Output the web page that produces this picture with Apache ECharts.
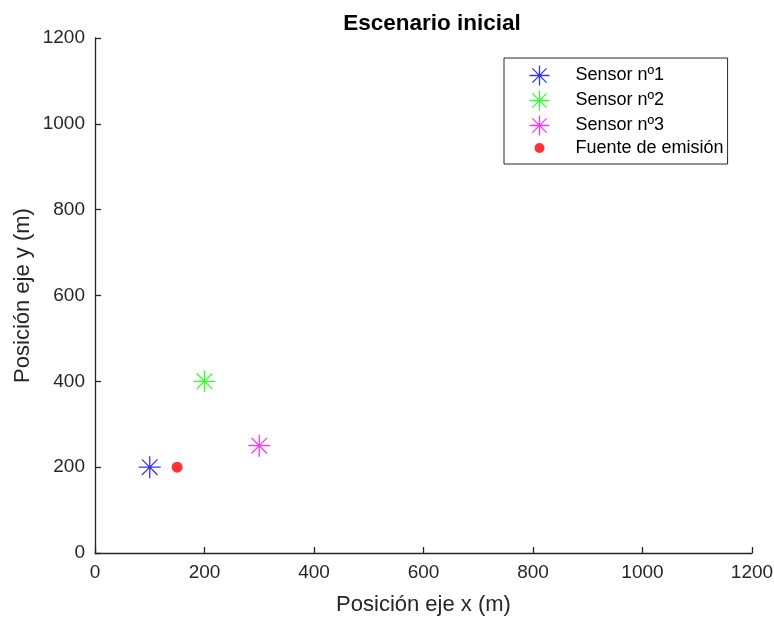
<!DOCTYPE html>
<html>
<head>
<meta charset="utf-8">
<script src="https://cdn.jsdelivr.net/npm/echarts@6/dist/echarts.min.js"></script>
<style>
html,body{margin:0;padding:0;background:#fff;}
#c{width:774px;height:617px;}
</style>
</head>
<body>
<div id="c"></div>
<script>
const titleText = 'Escenario inicial';
const xLabel = 'Posición eje x (m)';
const yLabel = 'Posición eje y (m)';
const seriesNames = ['Sensor nº1', 'Sensor nº2', 'Sensor nº3', 'Fuente de emisión'];
const sensor1 = [[100, 200]];
const sensor2 = [[200, 400]];
const sensor3 = [[300, 250]];
const source = [[150, 200]];
const axisMin = 0, axisMax = 1200, axisStep = 200;

const FONT = '"Liberation Sans", Arial, Helvetica, sans-serif';
const AX = '#262626';
const star = 'path://M-11,0L11,0M0,-11L0,11M-7.8,-7.8L7.8,7.8M-7.8,7.8L7.8,-7.8';

function starSeries(name, data, color) {
  return {
    name: name, type: 'scatter', data: data,
    symbol: star, symbolSize: 22,
    itemStyle: { color: 'none', borderColor: color, borderWidth: 1.3 },
    emphasis: { disabled: true }
  };
}

const chart = echarts.init(document.getElementById('c'), null, { renderer: 'canvas' });
const axisCommon = {
  type: 'value', min: axisMin, max: axisMax, interval: axisStep,
  nameLocation: 'middle',
  nameMoveOverlap: false,
  nameTextStyle: { fontFamily: FONT, fontSize: 22, color: AX },
  axisLine: { show: true, onZero: false, lineStyle: { color: AX, width: 1.3 } },
  axisTick: { show: true, inside: true, length: 6, lineStyle: { color: AX, width: 1.3 } },
  axisLabel: { fontFamily: FONT, fontSize: 19, color: AX, margin: 10, formatter: function (v) { return String(v); } },
  splitLine: { show: false }
};
chart.setOption({
  animation: false,
  backgroundColor: '#fff',
  title: {
    text: titleText, left: 427, textAlign: 'center', top: 7,
    textStyle: { fontFamily: FONT, fontSize: 22.5, fontWeight: 'bold', color: '#000' }
  },
  grid: { left: 95, right: 22, top: 38, bottom: 64, containLabel: false, outerBoundsMode: 'none' },
  xAxis: Object.assign({}, axisCommon, { name: xLabel, nameGap: 41 }),
  yAxis: Object.assign({}, axisCommon, { name: yLabel, nameGap: 61 }),
  legend: {
    orient: 'vertical', left: 504, top: 58,
    padding: [5, 4, 6, 23],
    itemWidth: 22, itemHeight: 20, itemGap: 0,
    borderColor: AX, borderWidth: 1, backgroundColor: '#fff',
    textStyle: { fontFamily: FONT, fontSize: 18, color: '#000', padding: [0, 0, 0, 20] },
    data: [
      { name: seriesNames[0], icon: star, itemStyle: { color: 'none', borderColor: '#0000ff', borderWidth: 1.3 } },
      { name: seriesNames[1], icon: star, itemStyle: { color: 'none', borderColor: '#00ff00', borderWidth: 1.3 } },
      { name: seriesNames[2], icon: star, itemStyle: { color: 'none', borderColor: '#ff00ff', borderWidth: 1.3 } },
      { name: seriesNames[3], icon: 'path://M0,-5.5A5.5,5.5 0 1 1 0,5.5A5.5,5.5 0 1 1 0,-5.5Z M-11,-11 M11,11', itemStyle: { color: '#ff0000', borderWidth: 0 } }
    ]
  },
  series: [
    starSeries(seriesNames[0], sensor1, '#0000ff'),
    starSeries(seriesNames[1], sensor2, '#00ff00'),
    starSeries(seriesNames[2], sensor3, '#ff00ff'),
    {
      name: seriesNames[3], type: 'scatter', data: source,
      symbol: 'circle', symbolSize: 11,
      itemStyle: { color: '#ff0000' },
      emphasis: { disabled: true }
    }
  ]
});
</script>
</body>
</html>
